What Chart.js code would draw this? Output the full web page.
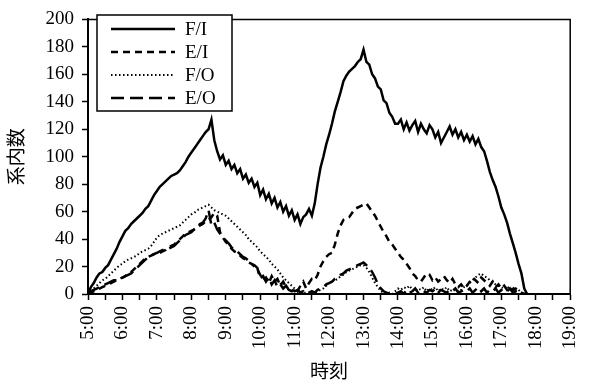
<!DOCTYPE html>
<html>
<head>
<meta charset="utf-8">
<script src="https://cdn.jsdelivr.net/npm/chart.js@4.4.1/dist/chart.umd.min.js"></script>
<style>
  html, body { margin: 0; padding: 0; background: #fff; }
  #wrap { width: 599px; height: 389px; }
</style>
</head>
<body>
<div id="wrap"><canvas id="c" width="599" height="389"></canvas></div>
<script>
// Five-minute samples from 5:00 to 17:45, one row per hour
const startHour = 5;
const stepMinutes = 5;

const seriesNames = ['F/I', 'E/I', 'F/O', 'E/O'];

const fullIn = [
  0, 5, 8, 12, 15, 16, 19, 21, 25, 29, 33, 38,
  42, 46, 48, 51, 53, 55, 57, 59, 62, 64, 68, 72,
  75, 78, 80, 82, 84, 86, 87, 88, 90, 93, 96, 100,
  103, 106, 109, 112, 115, 118, 120, 127, 112, 104, 98, 101,
  94, 97, 91, 94, 88, 91, 84, 87, 81, 84, 78, 81,
  72, 76, 69, 73, 66, 70, 63, 67, 60, 64, 57, 61,
  54, 58, 51, 56, 58, 62, 57, 66, 80, 92, 100, 109,
  116, 124, 133, 140, 147, 155, 159, 162, 164, 166, 169, 171,
  178, 169, 167, 160, 157, 151, 149, 141, 139, 132, 129, 124,
  124, 127, 120, 125, 119, 123, 126, 118, 124, 120, 117, 123,
  120, 114, 118, 110, 114, 118, 122, 116, 120, 114, 118, 112,
  116, 111, 115, 109, 113, 107, 104, 97, 89, 83, 78, 71,
  63, 58, 52, 44, 37, 30, 22, 15, 4, 0
];

const emptyIn = [
  0, 1, 2, 3, 4, 5, 6, 7, 8, 9, 10, 11,
  12, 13, 15, 16, 18, 20, 22, 24, 26, 27, 28, 29,
  30, 30, 31, 32, 34, 35, 36, 38, 40, 42, 44, 45,
  46, 47, 48, 50, 51, 53, 54, 56, 59, 57, 45, 41,
  38, 36, 33, 31, 30, 28, 26, 25, 23, 22, 20, 18,
  14, 10, 12, 8, 13, 9, 11, 6, 9, 5, 3, 2,
  4, 2, 6, 9, 4, 8, 11, 10, 14, 20, 24, 27,
  29, 30, 36, 44, 50, 54, 55, 56, 59, 62, 63, 64,
  65, 66, 63, 60, 57, 53, 49, 45, 42, 38, 36, 33,
  30, 27, 25, 22, 19, 15, 13, 10, 9, 12, 15, 14,
  10, 12, 9, 11, 13, 10, 8, 11, 7, 5, 7, 4,
  6, 9, 12, 10, 8, 12, 10, 8, 6, 9, 5, 7,
  4, 6, 3, 5, 3, 4, 2, 1, 0, 0
];

const fullOut = [
  0, 2, 4, 6, 8, 10, 11, 13, 15, 17, 19, 21,
  22, 24, 25, 26, 27, 28, 30, 31, 32, 33, 35, 38,
  41, 43, 44, 45, 46, 47, 48, 49, 50, 52, 54, 56,
  58, 59, 61, 62, 63, 64, 65, 63, 61, 60, 59, 58,
  57, 55, 53, 51, 49, 47, 45, 43, 40, 38, 36, 34,
  31, 29, 27, 25, 22, 20, 18, 15, 12, 10, 8, 6,
  4, 3, 2, 1, 1, 0, 0, 1, 2, 3, 4, 6,
  8, 9, 10, 11, 13, 14, 16, 17, 18, 19, 20, 21,
  21, 19, 16, 12, 8, 5, 2, 1, 0, 1, 0, 2,
  4, 3, 5, 4, 6, 3, 2, 4, 3, 5, 2, 4,
  3, 5, 2, 4, 3, 5, 2, 3, 4, 2, 3, 5,
  6, 8, 10, 12, 14, 15, 13, 12, 10, 8, 7, 6,
  5, 4, 6, 3, 5, 2, 3, 1, 0, 0
];

const emptyOut = [
  0, 2, 3, 4, 5, 6, 7, 8, 9, 10, 10, 11,
  12, 13, 14, 15, 17, 19, 21, 23, 25, 27, 28, 29,
  30, 31, 32, 32, 33, 34, 35, 37, 39, 41, 43, 44,
  45, 47, 49, 51, 52, 55, 61, 50, 52, 47, 44, 41,
  39, 37, 34, 32, 31, 29, 27, 26, 24, 22, 21, 19,
  11, 13, 9, 12, 7, 10, 5, 7, 4, 6, 3, 4,
  2, 3, 1, 2, 0, 1, 2, 1, 3, 4, 5, 7,
  8, 9, 11, 12, 14, 15, 17, 18, 19, 20, 21, 22,
  23, 21, 19, 16, 12, 7, 4, 2, 1, 0, 1, 0,
  1, 2, 0, 3, 1, 2, 4, 1, 3, 2, 1, 3,
  2, 4, 1, 3, 2, 1, 3, 2, 4, 1, 2, 3,
  2, 4, 1, 3, 5, 2, 4, 1, 3, 2, 4, 1,
  3, 1, 2, 4, 1, 2, 1, 0, 0, 0
];

// Sample times in hours
const times = fullIn.map((_, i) => startHour + i * stepMinutes / 60);

// Axis tick values
const xTickMin = 5, xTickMax = 19;
const yTickMin = 0, yTickMax = 200, yTickStep = 20;

const serif = "'Liberation Serif', 'Times New Roman', serif";
const cjk = "'Noto Sans CJK JP', 'Noto Sans CJK SC', sans-serif";

function toPoints(values) {
  return values.map((v, i) => ({ x: times[i], y: v }));
}

const styles = [
  { dash: [], width: 2.5 },
  { dash: [7, 5], width: 2.5 },
  { dash: [1.5, 2.5], width: 2 },
  { dash: [13, 6], width: 2.5 }
];
const seriesValues = [fullIn, emptyIn, fullOut, emptyOut];

const datasets = seriesNames.map((name, k) => ({
  label: name,
  data: toPoints(seriesValues[k]),
  borderColor: '#000',
  borderWidth: styles[k].width,
  borderDash: styles[k].dash,
  pointRadius: 0,
  tension: 0,
  fill: false
}));

// Frame around the plot area and an inset legend box
const framePlugin = {
  id: 'frameAndLegend',
  afterDatasetsDraw(chart) {
    const { ctx, chartArea: a } = chart;
    ctx.save();
    ctx.strokeStyle = '#000';
    ctx.lineWidth = 1.5;
    ctx.setLineDash([]);
    ctx.beginPath();
    ctx.moveTo(a.left, a.top);
    ctx.lineTo(a.right, a.top);
    ctx.lineTo(a.right, a.bottom);
    ctx.stroke();

    // legend
    const bx = 97, by = 15, bw = 135, bh = 96;
    ctx.fillStyle = '#fff';
    ctx.fillRect(bx, by, bw, bh);
    ctx.lineWidth = 1.5;
    ctx.strokeRect(bx, by, bw, bh);
    ctx.font = '19px ' + serif;
    ctx.textBaseline = 'middle';
    ctx.textAlign = 'left';
    chart.data.datasets.forEach((ds, k) => {
      const y = by + 14 + k * 23;
      ctx.beginPath();
      ctx.lineWidth = ds.borderWidth;
      ctx.setLineDash(ds.borderDash);
      ctx.moveTo(bx + 14, y);
      ctx.lineTo(bx + 78, y);
      ctx.stroke();
      ctx.setLineDash([]);
      ctx.fillStyle = '#000';
      ctx.fillText(ds.label, bx + 88, y + 1);
    });
    ctx.restore();
  }
};

new Chart(document.getElementById('c'), {
  type: 'line',
  data: { datasets },
  plugins: [framePlugin],
  options: {
    responsive: false,
    animation: false,
    events: [],
    layout: { padding: { top: 12, right: 11, left: 0, bottom: 0 } },
    plugins: { legend: { display: false }, tooltip: { enabled: false } },
    scales: {
      x: {
        type: 'linear',
        min: xTickMin,
        max: xTickMax,
        afterFit(scale) { scale.height = 95; },
        ticks: {
          stepSize: 0.5,
          autoSkip: false,
          maxRotation: 90,
          minRotation: 90,
          padding: 6,
          color: '#000',
          font: { family: serif, size: 19 },
          callback: (v) => Number.isInteger(v) ? v + ':00' : ''
        },
        grid: {
          drawOnChartArea: false,
          drawTicks: true,
          tickLength: 6,
          tickWidth: 1.5,
          tickColor: '#000'
        },
        border: { display: true, color: '#000', width: 2 },
        title: {
          display: true,
          text: '時刻',
          color: '#000',
          font: { family: cjk, size: 19 },
          padding: { top: 0, bottom: 7 }
        }
      },
      y: {
        min: yTickMin,
        max: yTickMax,
        afterFit(scale) { scale.width = 88; },
        ticks: {
          stepSize: yTickStep,
          padding: 8,
          color: '#000',
          font: { family: serif, size: 19 }
        },
        grid: {
          drawOnChartArea: false,
          drawTicks: true,
          tickLength: 6,
          tickWidth: 1.5,
          tickColor: '#000'
        },
        border: { display: true, color: '#000', width: 2 },
        title: {
          display: true,
          text: '系内数',
          color: '#000',
          font: { family: cjk, size: 19 },
          padding: { top: 4, bottom: 0 }
        }
      }
    }
  }
});
</script>
</body>
</html>
